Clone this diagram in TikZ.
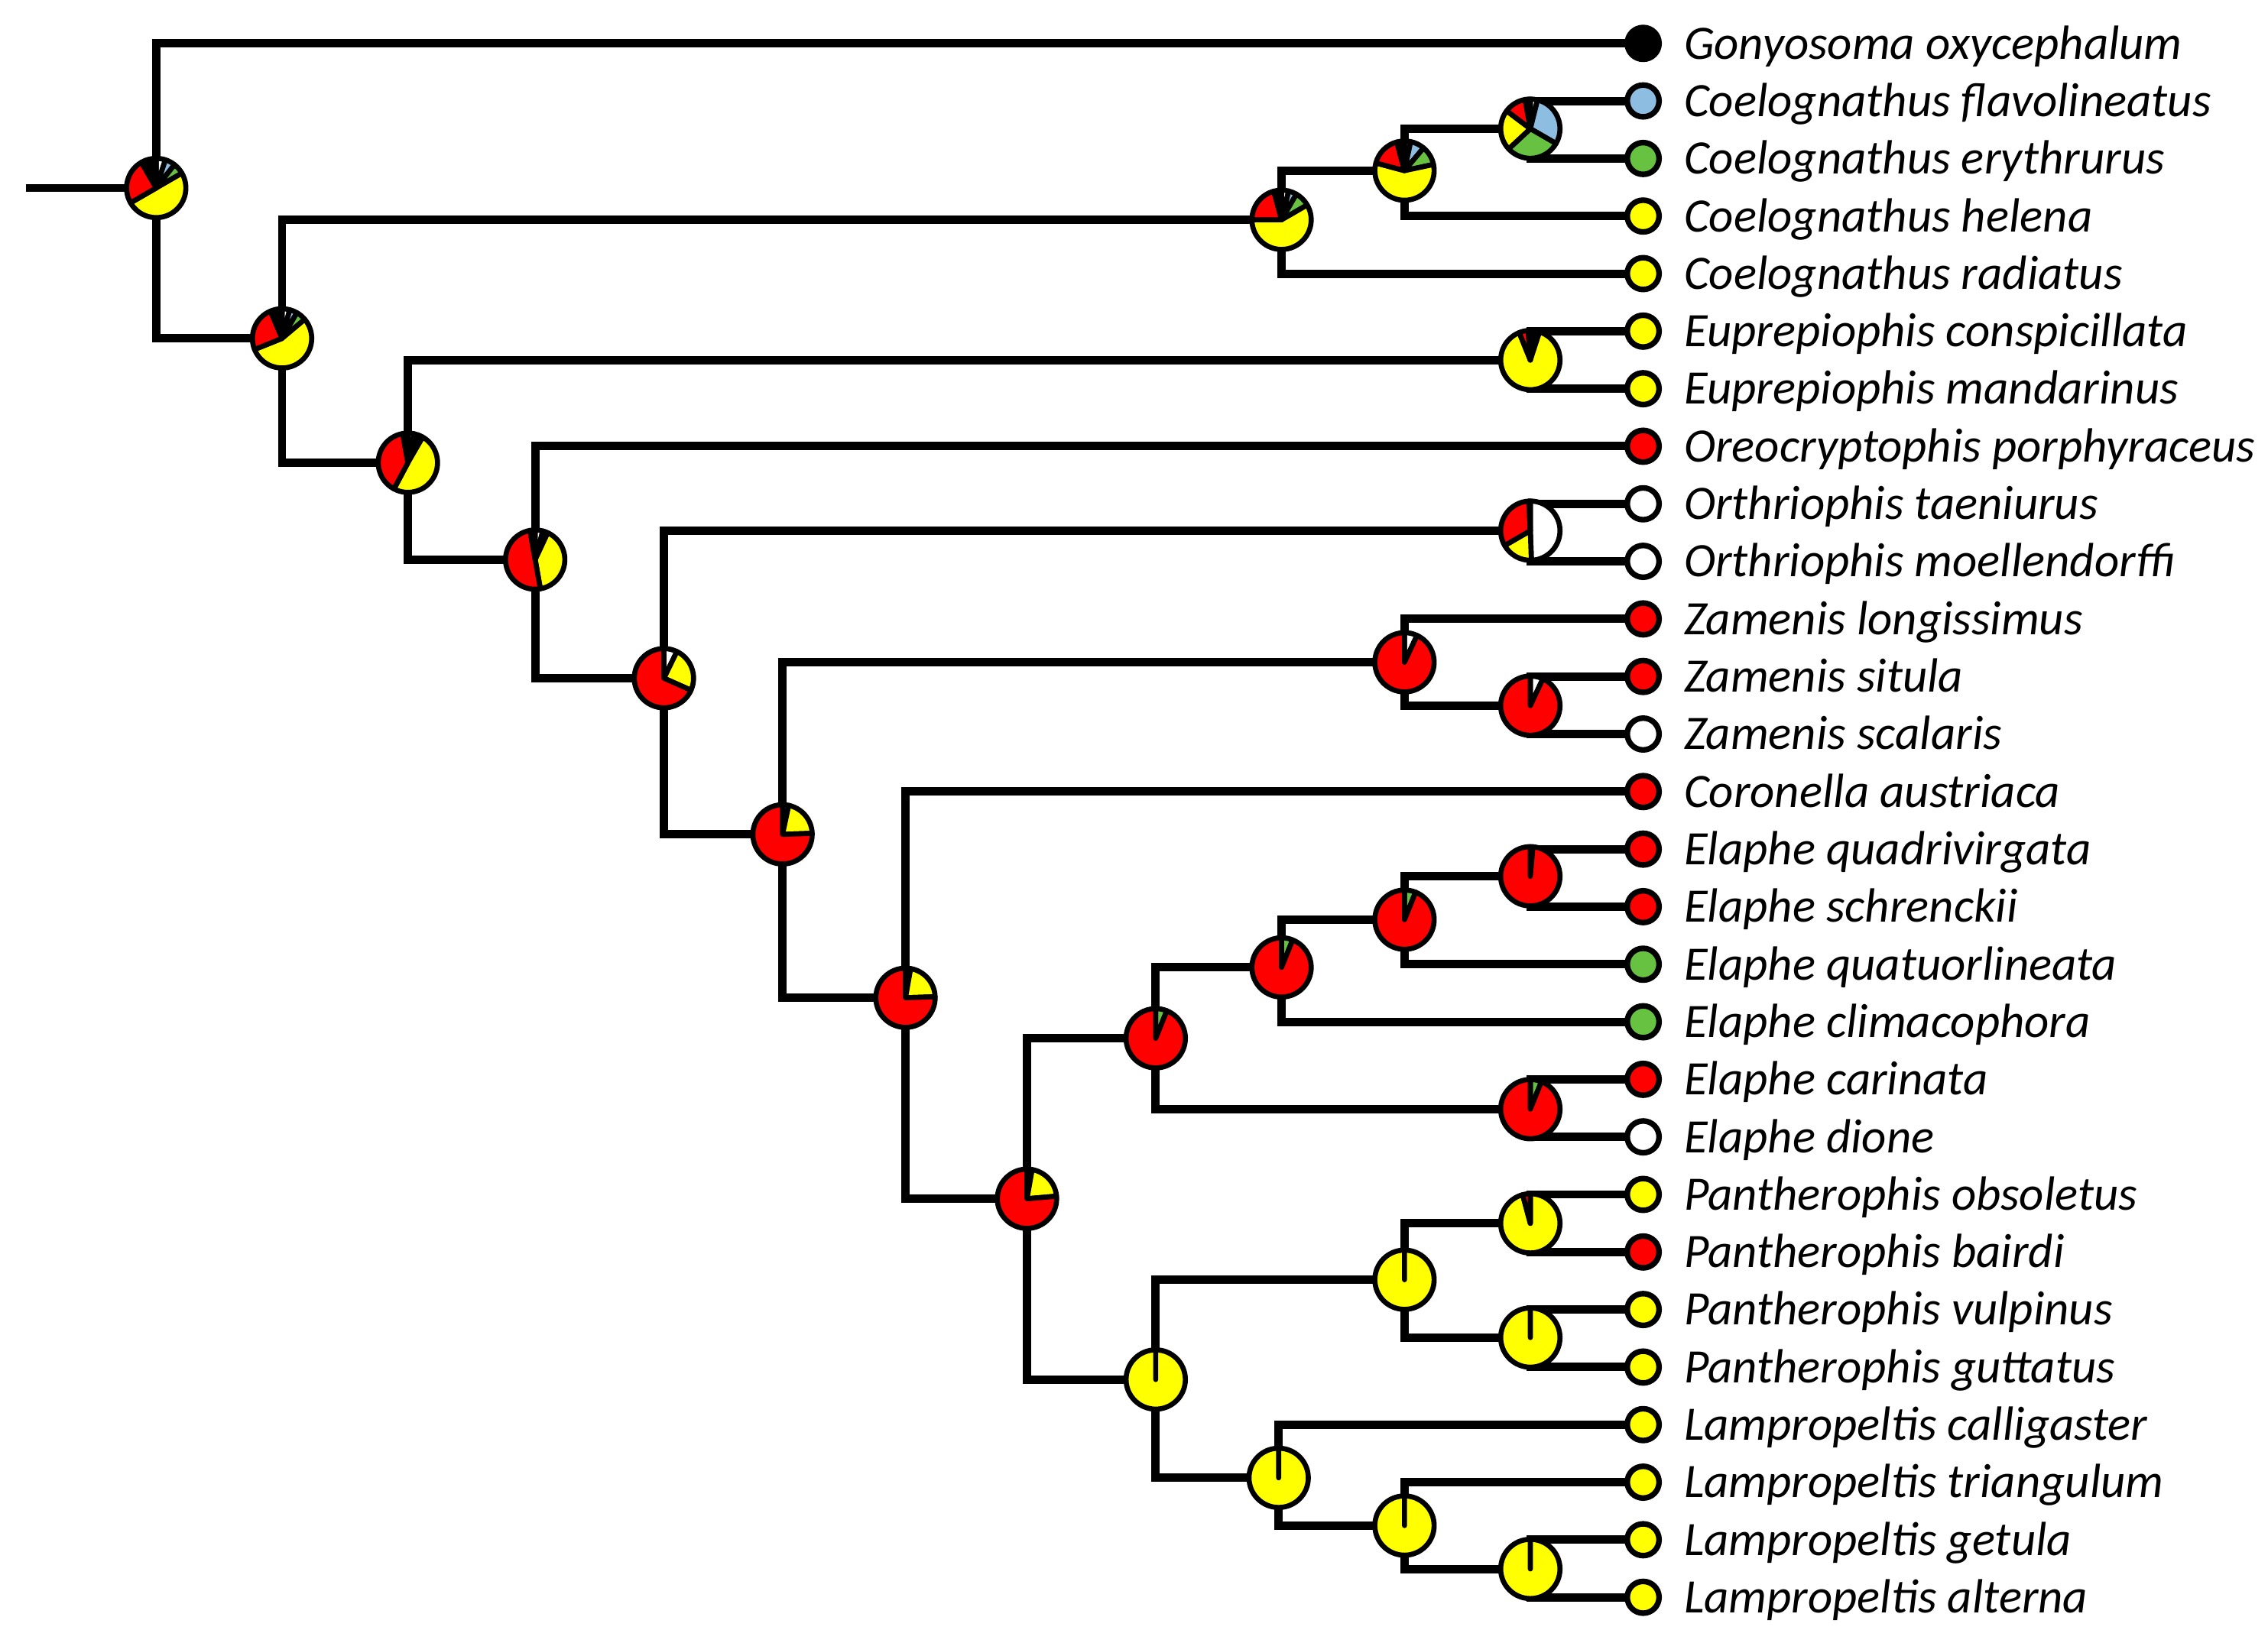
\documentclass[tikz,border=0pt]{standalone}
\usepackage{fontspec}
\setmainfont{Carlito}
\usetikzlibrary{positioning}

\definecolor{cred}{RGB}{255,0,0}
\definecolor{cyellow}{RGB}{255,255,0}
\definecolor{cgreen}{RGB}{102,194,64}
\definecolor{cblue}{RGB}{141,190,226}

\newcommand{\pierad}{0.41cm}
% slices are start/end/colour, angles clockwise from north
\newcommand{\ancpie}[2]{%
  \foreach \a/\b/\c in {#2}
    \filldraw[pieslice, fill=\c] (#1) -- ++(90-\a:\pierad)
      arc[start angle=90-\a, end angle=90-\b, radius=\pierad] -- cycle;}

\tikzset{
  branch/.style={line width=3.3pt},
  pieslice/.style={draw=black, line width=2pt, line join=round},
  tipdot/.style={circle, draw=black, line width=2.2pt, minimum size=0.44cm, inner sep=0pt},
  taxon/.style={font=\fontsize{18.9pt}{22pt}\selectfont\itshape, inner sep=0pt,
    text height=0.43cm, text depth=0cm},
}

\begin{document}
\begin{tikzpicture}[x=0.02cm, y=-0.02cm]
  \useasboundingbox (0,0) rectangle (1568,1136);

  \foreach \i in {0,1,...,27}
    \coordinate (t\i) at (1136, {30+39.8*\i});

  \coordinate (root) at (18,130);
  \coordinate (n0) at (108,130);
  \coordinate (n1) at (195,234);
  \coordinate (c1) at (886,152);
  \coordinate (c2) at (971,118);
  \coordinate (c3) at (1058,89);
  \coordinate (n2) at (282,320);
  \coordinate (e1) at (1058,249);
  \coordinate (n3) at (370,387);
  \coordinate (n4) at (459,469);
  \coordinate (o1) at (1058,367);
  \coordinate (n5) at (541,577);
  \coordinate (z1) at (971,458);
  \coordinate (z2) at (1058,488);
  \coordinate (n6) at (626,690);
  \coordinate (n7) at (710,829);
  \coordinate (el1) at (799,718);
  \coordinate (el2) at (886,669);
  \coordinate (el3) at (971,636);
  \coordinate (el4) at (1058,606);
  \coordinate (el5) at (1058,767);
  \coordinate (p0) at (799,954);
  \coordinate (p1) at (971,885);
  \coordinate (p2) at (1058,846);
  \coordinate (p3) at (1058,925);
  \coordinate (l1) at (884,1022);
  \coordinate (l2) at (971,1055);
  \coordinate (l3) at (1058,1085);

  \draw[branch] (root) -- (n0);
  \foreach \p/\c in {n0/t0, n0/n1, n1/c1, n1/n2, c1/c2, c1/t4, c2/c3, c2/t3,
      c3/t1, c3/t2, n2/e1, n2/n3, e1/t5, e1/t6, n3/t7, n3/n4, n4/o1, n4/n5,
      o1/t8, o1/t9, n5/z1, n5/n6, z1/t10, z1/z2, z2/t11, z2/t12, n6/t13, n6/n7,
      n7/el1, n7/p0, el1/el2, el1/el5, el2/el3, el2/t17, el3/el4, el3/t16,
      el4/t14, el4/t15, el5/t18, el5/t19, p0/p1, p0/l1, p1/p2, p1/p3,
      p2/t20, p2/t21, p3/t22, p3/t23, l1/t24, l1/l2, l2/t25, l2/l3, l3/t26, l3/t27}
    \draw[branch] (\p) |- (\c);

  % ancestral states
  \ancpie{n0}{0/18/white, 18/38/cblue, 38/60/cgreen, 60/240/cyellow, 240/330/cred, 330/360/black}
  \ancpie{n1}{0/15/white, 15/30/cblue, 30/50/cgreen, 50/248/cyellow, 248/337/cred, 337/360/black}
  \ancpie{n2}{0/12/white, 12/20/cblue, 20/30/cgreen, 30/208/cyellow, 208/350/cred, 350/360/black}
  \ancpie{n3}{0/15/white, 15/25/cgreen, 25/170/cyellow, 170/350/cred, 350/360/black}
  \ancpie{n4}{0/26/white, 26/114/cyellow, 114/360/cred}
  \ancpie{n5}{0/12/white, 12/88/cyellow, 88/360/cred}
  \ancpie{n6}{0/10/white, 10/88/cyellow, 88/360/cred}
  \ancpie{n7}{0/10/white, 10/85/cyellow, 85/360/cred}
  \ancpie{c1}{0/14/white, 14/30/cblue, 30/60/cgreen, 60/270/cyellow, 270/345/cred, 345/360/black}
  \ancpie{c2}{0/12/white, 12/40/cblue, 40/78/cgreen, 78/285/cyellow, 285/345/cred, 345/360/black}
  \ancpie{c3}{0/14/white, 14/120/cblue, 120/227/cgreen, 227/307/cyellow, 307/350/cred, 350/360/black}
  \ancpie{e1}{0/8/white, 8/18/cgreen, 18/338/cyellow, 338/356/cred, 356/360/black}
  \ancpie{o1}{0/178/white, 178/240/cyellow, 240/357/cred, 357/360/black}
  \ancpie{z1}{0/25/white, 25/360/cred}
  \ancpie{z2}{0/25/white, 25/360/cred}
  \ancpie{el1}{0/22/cgreen, 22/360/cred}
  \ancpie{el2}{0/22/cgreen, 22/360/cred}
  \ancpie{el3}{0/22/cgreen, 22/360/cred}
  \ancpie{el4}{0/5/cgreen, 5/360/cred}
  \ancpie{el5}{0/22/cgreen, 22/360/cred}
  \ancpie{p0}{0/360/cyellow}
  \ancpie{p1}{0/360/cyellow}
  \ancpie{p2}{0/345/cyellow, 345/360/cred}
  \ancpie{p3}{0/360/cyellow}
  \ancpie{l1}{0/360/cyellow}
  \ancpie{l2}{0/360/cyellow}
  \ancpie{l3}{0/360/cyellow}

  % tips
  \foreach \tx/\tcol [count=\i from 0] in {
      Gonyosoma oxycephalum/black, Coelognathus flavolineatus/cblue,
      Coelognathus erythrurus/cgreen, Coelognathus helena/cyellow,
      Coelognathus radiatus/cyellow, Euprepiophis conspicillata/cyellow,
      Euprepiophis mandarinus/cyellow, Oreocryptophis porphyraceus/cred,
      Orthriophis taeniurus/white, Orthriophis moellendorffi/white,
      Zamenis longissimus/cred, Zamenis situla/cred, Zamenis scalaris/white,
      Coronella austriaca/cred, Elaphe quadrivirgata/cred, Elaphe schrenckii/cred,
      Elaphe quatuorlineata/cgreen, Elaphe climacophora/cgreen,
      Elaphe carinata/cred, Elaphe dione/white, Pantherophis obsoletus/cyellow,
      Pantherophis bairdi/cred, Pantherophis vulpinus/cyellow,
      Pantherophis guttatus/cyellow, Lampropeltis calligaster/cyellow,
      Lampropeltis triangulum/cyellow, Lampropeltis getula/cyellow,
      Lampropeltis alterna/cyellow} {
    \node[tipdot, fill=\tcol] (d\i) at (t\i) {};
    \node[taxon, right=0.3cm of d\i] (l\i) {\tx};
  }
\end{tikzpicture}
\end{document}
